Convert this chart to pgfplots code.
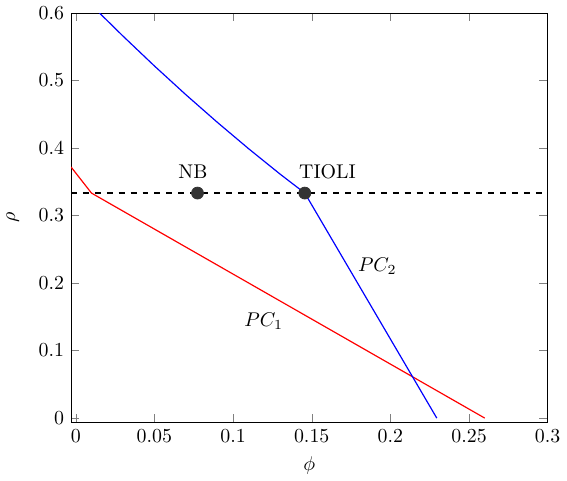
\documentclass[border=0pt]{standalone}
\usepackage{pgfplots}
\pgfplotsset{compat=1.18}
\begin{document}
\begin{tikzpicture}
\begin{axis}[
  scale only axis,
  width=240pt, height=206pt,
  xmin=-0.003, xmax=0.3,
  ymin=-0.006, ymax=0.6,
  xtick={0,0.05,0.1,0.15,0.2,0.25,0.3},
  xticklabels={0,0.05,0.1,0.15,0.2,0.25,0.3},
  ytick={0,0.1,0.2,0.3,0.4,0.5,0.6},
  xlabel={$\phi$}, ylabel={$\rho$},
  ylabel style={yshift=3pt},
  clip=true,
]
% dashed reference line rho = 1/3
\addplot[black, dashed, thick] coordinates {(-0.003,0.3333) (0.3,0.3333)};
% PC1
\addplot[red, semithick] coordinates {(-0.003,0.372) (0.01,0.3333) (0.26,0)};
% PC2
\addplot[blue, semithick] coordinates {
  (0.0151,0.6) (0.03,0.5659) (0.05,0.5216) (0.07,0.479) (0.09,0.4381)
  (0.11,0.3988) (0.13,0.3612) (0.1456,0.3333) (0.2295,0)};
% NB and TIOLI
\addplot[only marks, mark=*, mark size=3pt, black!80] coordinates {(0.0774,0.3333) (0.1456,0.3333)};
\node at (axis cs:0.0745,0.365) {NB};
\node at (axis cs:0.160,0.365) {TIOLI};
\node at (axis cs:0.1195,0.144) {$PC_1$};
\node at (axis cs:0.1917,0.225) {$PC_2$};
\end{axis}
\end{tikzpicture}
\end{document}
